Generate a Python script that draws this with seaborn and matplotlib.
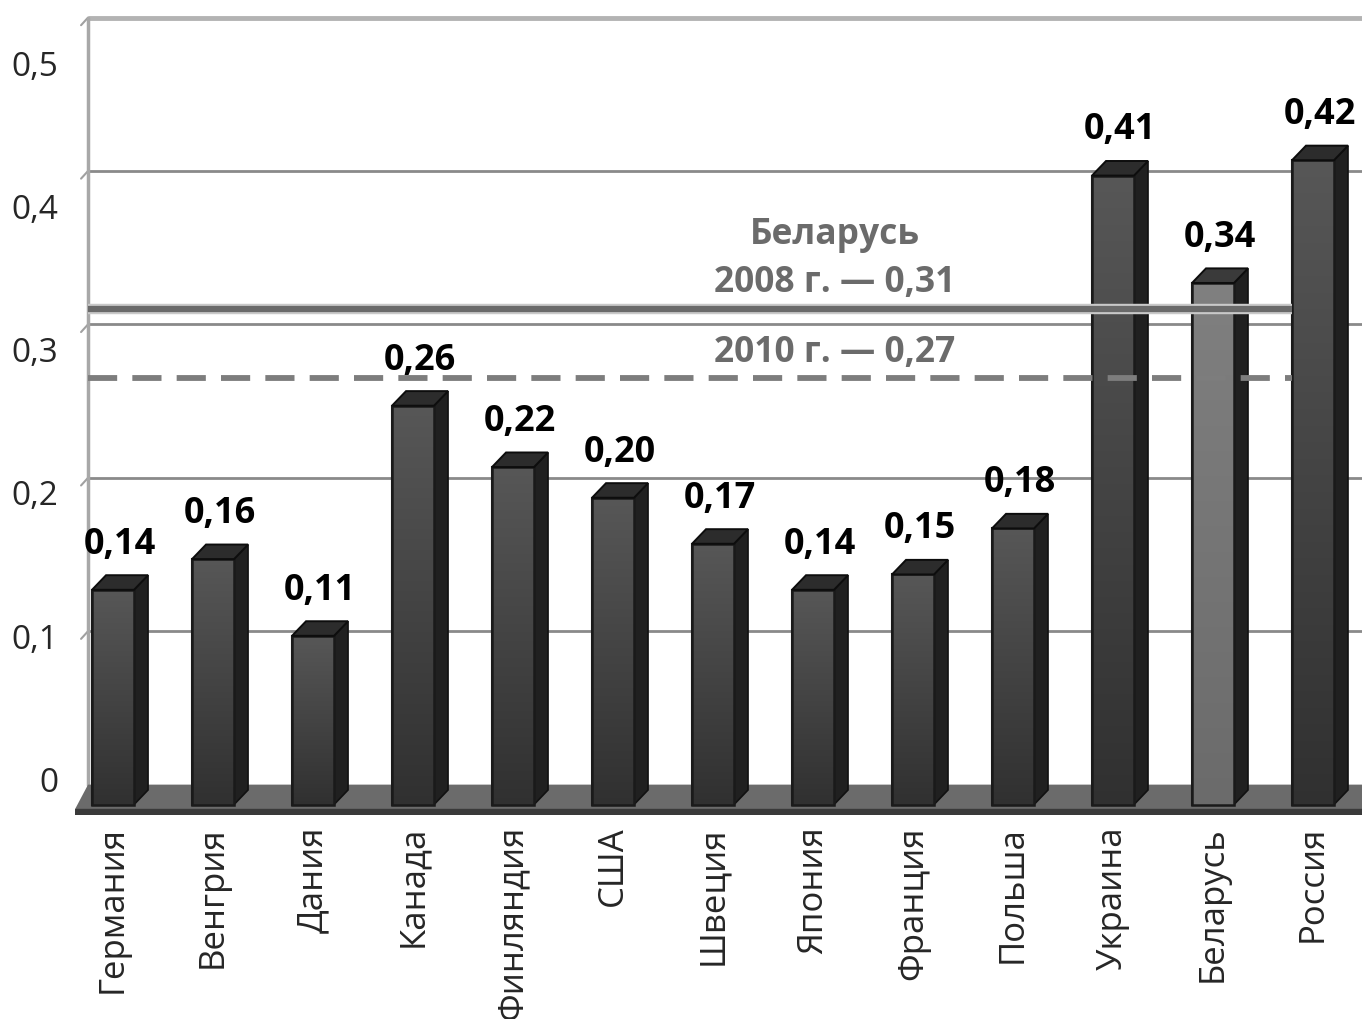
import numpy as np
import seaborn as sns
import matplotlib.pyplot as plt
from matplotlib.patches import Polygon

# data
countries = ["Германия", "Венгрия", "Дания", "Канада", "Финляндия", "США", "Швеция",
             "Япония", "Франция", "Польша", "Украина", "Беларусь", "Россия"]
values = [0.14, 0.16, 0.11, 0.26, 0.22, 0.20, 0.17, 0.14, 0.15, 0.18, 0.41, 0.34, 0.42]
belarus_2008 = 0.31
belarus_2010 = 0.27
ytick_values = [0, 0.1, 0.2, 0.3, 0.4, 0.5]
ytick_labels = ["0", "0,1", "0,2", "0,3", "0,4", "0,5"]

sns.set_style("white")
plt.rcParams['font.family'] = ['Open Sans', 'DejaVu Sans']

fig = plt.figure(figsize=(13.62, 10.19), dpi=100)
ax = fig.add_axes([0.0551, 0.2002, 0.9449, 0.788])

colors = ["#7a7a7a" if c == "Беларусь" else "#474747" for c in countries]
sns.barplot(x=countries, y=values, hue=countries, palette=colors, width=0.42,
            saturation=1, legend=False, ax=ax, edgecolor="#1a1a1a", linewidth=1.5,
            zorder=3)

# pseudo 3d geometry
wall_dx, wall_dy = 0.13, 0.013
dx, dy = 0.14, 0.0095
x_left, x_right = -0.38, 12.49
wall_x = x_left + wall_dx

# floor
ax.add_patch(Polygon([(x_left, -0.003), (wall_x, wall_dy), (x_right + 1, wall_dy),
                      (x_right + 1, -0.003)], closed=True, fc="#6b6b6b", ec="none", zorder=1))
ax.axhspan(-0.0068, -0.003, xmin=0, xmax=1, color="#3a3a3a", zorder=1)

# back wall grid
for v in ytick_values[1:]:
    top = v == 0.5
    ax.plot([wall_x, x_right + 1], [v + wall_dy] * 2, color="#b3b3b3" if top else "#8a8a8a",
            lw=3.5 if top else 2, zorder=0.5, solid_capstyle="butt")
    ax.plot([wall_x - 0.07, wall_x], [v + wall_dy - 0.005, v + wall_dy], color="#a0a0a0",
            lw=1.5, zorder=0.5)
ax.plot([wall_x, wall_x], [wall_dy, 0.5 + wall_dy], color="#a8a8a8", lw=2.5, zorder=0.6)

# sides, tops and shading of the bars
for p, c, v in zip(list(ax.patches), colors, values):
    x0, x1, h = p.get_x(), p.get_x() + p.get_width(), p.get_height()
    light = c == "#7a7a7a"
    top_g, bot_g = (0.50, 0.42) if light else (0.34, 0.19)
    grad = np.linspace(top_g, bot_g, 64)[:, None] * np.ones((1, 2))
    img = ax.imshow(np.dstack([grad] * 3), extent=[x0, x1, 0, h], aspect="auto",
                    interpolation="bilinear", zorder=3.05)
    img.set_clip_path(p)
    ax.add_patch(Polygon([(x0, 0), (x0, h), (x1, h), (x1, 0)], closed=True, fc="none",
                         ec="#1a1a1a", lw=1.8, zorder=3.06))
    ax.add_patch(Polygon([(x1, 0), (x1 + dx, dy), (x1 + dx, h + dy), (x1, h)], closed=True,
                         fc="#202020", ec="#111111", lw=1.2, zorder=2.9))
    ax.add_patch(Polygon([(x0, h), (x0 + dx, h + dy), (x1 + dx, h + dy), (x1, h)], closed=True,
                         fc="#3a3a3a" if light else "#2c2c2c", ec="#0d0d0d", lw=1.4,
                         zorder=3.1))
    ax.annotate(f"{v:.2f}".replace(".", ","), xy=(x0 + p.get_width() / 2 + dx / 2, h + dy),
                xytext=(0, 9), textcoords="offset points", ha="center", va="bottom",
                fontsize=26, fontweight="bold", color="black", zorder=6)

# Belarus reference lines, ending at the Russia bar
end_x = ax.patches[len(countries) - 1].get_x()
ax.plot([wall_x, end_x], [belarus_2008 + wall_dy] * 2, color="#c9c9c9", lw=7.5,
        solid_capstyle="butt", zorder=4)
ax.plot([wall_x, end_x], [belarus_2008 + wall_dy] * 2, color="#6a6a6a", lw=4.5,
        solid_capstyle="butt", zorder=4.1)
ax.plot([wall_x, end_x], [belarus_2010 + wall_dy * 0.6] * 2, color="#7d7d7d", lw=4.2,
        dashes=(5, 2.6), zorder=4)

txt = dict(ha="center", va="baseline", fontsize=25.5, fontweight="bold", color="#6b6b6b",
           textcoords="offset points")
ax.annotate("Беларусь", xy=(7.22, belarus_2008 + wall_dy), xytext=(0, 47), **txt)
ax.annotate("2008 г. — 0,31", xy=(7.22, belarus_2008 + wall_dy), xytext=(0, 12), **txt)
ax.annotate("2010 г. — 0,27", xy=(7.22, belarus_2010 + wall_dy * 0.6), xytext=(0, 12), **txt)

ax.set_xlim(x_left, x_right)
ax.set_ylim(-0.0068, 0.5166)
ax.set_yticks([0.0163 + 0.934 * v for v in ytick_values])
ax.set_yticklabels(ytick_labels, fontsize=24)
ax.tick_params(axis="y", length=0, pad=12)
ax.tick_params(axis="x", length=0, pad=8)
ax.set_xticks(range(len(countries)))
ax.set_xticklabels(countries, rotation=90, fontsize=25, va="top", ha="center")
ax.set_xlabel("")
ax.set_ylabel("")
sns.despine(ax=ax, left=True, bottom=True)

plt.savefig("out.png", dpi=100)
